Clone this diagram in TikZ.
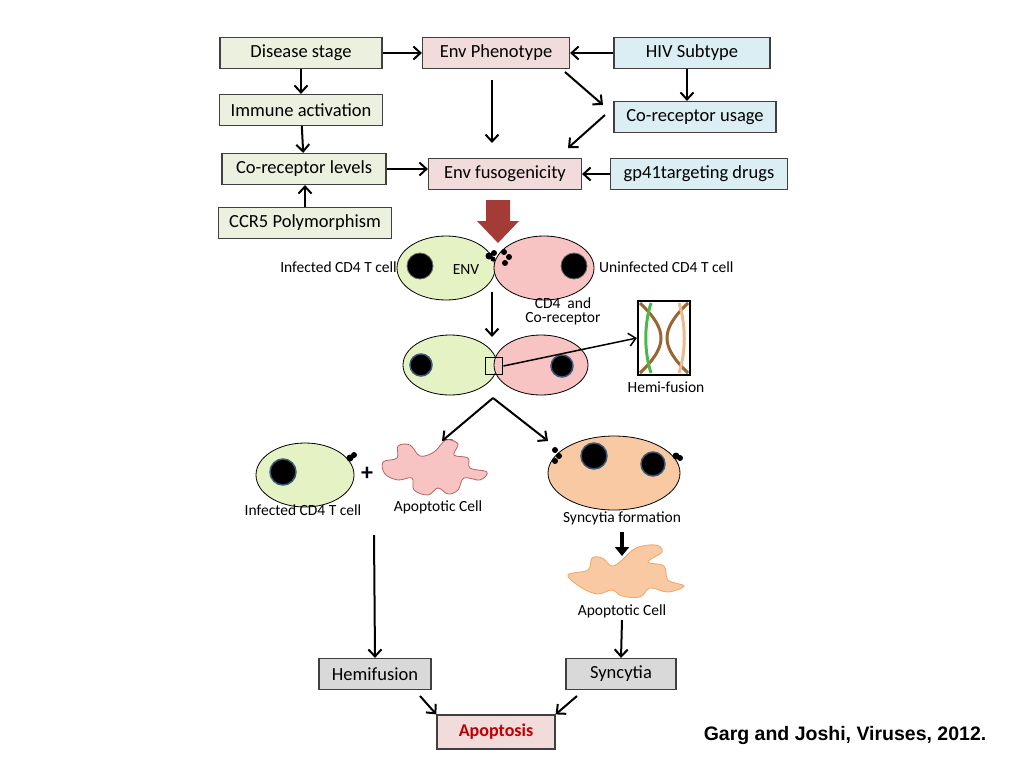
\documentclass[tikz,border=0pt]{standalone}
\usepackage{fontspec}
\setmainfont{Carlito}
\newfontfamily\arialfont{Liberation Sans}
\usetikzlibrary{arrows.meta,shapes.geometric}
\definecolor{boxgreen}{HTML}{EBF1DE}
\definecolor{boxpink}{HTML}{F2DCDB}
\definecolor{boxblue}{HTML}{DBEEF4}
\definecolor{boxgray}{HTML}{D9D9D9}
\definecolor{cellgreen}{HTML}{E4F2C4}
\definecolor{cellpink}{HTML}{F7C3C3}
\definecolor{cellorange}{HTML}{F9C9A4}
\definecolor{bigred}{HTML}{A33B37}
\definecolor{nucborder}{HTML}{3B5A7A}
\tikzset{
  box/.style={draw=black!75, line width=1.2pt, minimum height=31pt, inner sep=0pt, font=\fontsize{18.5}{19}\selectfont},
  arr/.style={-{Straight Barb[length=7pt,width=13pt]}, line width=2pt},
  lbl/.style={font=\fontsize{15.5}{16}\selectfont, inner sep=0pt, align=center},
  nuc/.style={circle, fill=black, draw=nucborder, line width=1.5pt, inner sep=0pt}
}
\begin{document}
\begin{tikzpicture}[x=1pt, y=-1pt]
\useasboundingbox (0,0) rectangle (1024,768);
% boxes
\node[box, fill=boxgreen, minimum width=162pt] (disease) at (301,53) {Disease stage};
\node[box, fill=boxpink, minimum width=147pt] (phen) at (496,53) {Env Phenotype};
\node[box, fill=boxblue, minimum width=156pt] (subtype) at (692,53) {HIV Subtype};
\node[box, fill=boxgreen, minimum width=163pt] (immune) at (301,110) {Immune activation};
\node[box, fill=boxblue, minimum width=162pt] (usage) at (695,117) {Co-receptor usage};
\node[box, fill=boxgreen, minimum width=164pt] (levels) at (304,169) {Co-receptor levels};
\node[box, fill=boxpink, minimum width=153pt] (fuso) at (505,174) {Env fusogenicity};
\node[box, fill=boxblue, minimum width=177pt] (drugs) at (699,174) {gp41targeting drugs};
\node[box, fill=boxgreen, minimum width=173pt] (ccr5) at (305,223) {CCR5 Polymorphism};
\node[box, fill=boxgray, minimum width=112pt] (hemi) at (375,674) {Hemifusion};
\node[box, fill=boxgray, minimum width=110pt] (syn) at (621,674) {Syncytia};
\node[box, fill=boxpink, minimum width=118pt, minimum height=34pt, text=red!75!black, font=\fontsize{18}{18}\selectfont\bfseries] (apo) at (496,732) {Apoptosis};
\node[font=\arialfont\fontsize{19.5}{20}\selectfont\bfseries, inner sep=0pt] (cite) at (845,735) {Garg and Joshi, Viruses, 2012.};
% top arrows
\draw[arr] (disease) -- (phen);
\draw[arr] (subtype) -- (phen);
\draw[arr] (disease) -- (immune);
\draw[arr] (immune) -- (levels);
\draw[arr] (ccr5) -- (ccr5 |- levels.south);
\draw[arr] (levels.east) -- (fuso.west |- levels.east);
\draw[arr] (drugs) -- (fuso);
\coordinate (p1) at (492,80);
\coordinate (p2) at (492,143);
\draw[arr] (p1) -- (p2);
\coordinate (p3) at (565,72);
\coordinate (p4) at (603,105);
\draw[arr] (p3) -- (p4);
\draw[arr] (subtype.south -| 687,0) -- (usage.north -| 687,0);
\coordinate (p5) at (605,115);
\coordinate (p6) at (568,148);
\draw[arr] (p5) -- (p6);
% big red arrow
\fill[bigred] (486,200) -- (510,200) -- (510,221) -- (519,221) -- (498,243) -- (477,221) -- (486,221) -- cycle;
% first cell pair
\node[ellipse, draw, thick, fill=cellgreen, minimum width=98pt, minimum height=64pt] (inf) at (446,268) {};
\node[ellipse, draw, thick, fill=cellpink, minimum width=100pt, minimum height=64pt] (uninf) at (544,268) {};
\node[circle, fill=black, draw=black!60, thick, minimum size=26pt, inner sep=0pt] (n1) at (420,266) {};
\node[circle, fill=black, draw=black!60, thick, minimum size=26pt, inner sep=0pt] (n2) at (574,266) {};
\node[lbl] (envl) at (466,270) {ENV};
\fill (489,256) circle (3.5pt) (494,253) circle (3pt) (493,259) circle (2.5pt);
\fill (504,252) circle (3pt) (509,257) circle (3pt) (505,263) circle (3pt);
\node[lbl, anchor=east] (infl) at (397,267) {Infected CD4 T cell};
\node[lbl, anchor=west] (uninfl) at (599,267) {Uninfected CD4 T cell};
\node[lbl, font=\fontsize{15.5}{14}\selectfont] (cd4l) at (563,311) {CD4\ \ and\\Co-receptor};
\coordinate (p7) at (492,292);
\coordinate (p8) at (492,337);
\draw[arr] (p7) -- (p8);
% fused pair
\node[ellipse, draw, thick, fill=cellgreen, minimum width=94pt, minimum height=60pt] (f1) at (450,365) {};
\node[ellipse, draw, thick, fill=cellpink, minimum width=94pt, minimum height=60pt] (f2) at (541,365) {};
\node[nuc, minimum size=22pt] (n3) at (421,365) {};
\node[nuc, minimum size=22pt] (n4) at (562,366) {};
\node[draw, line width=1.8pt, minimum size=17pt, inner sep=0pt] (zoombox) at (494,366) {};
\node[draw, line width=2.2pt, minimum width=52pt, minimum height=74pt, inner sep=0pt] (hfbox) at (664,338) {};
\begin{scope}
\clip (hfbox.south west) rectangle (hfbox.north east);
\draw[brown!80!black, line width=3pt] (640,303) .. controls (668,330) and (668,346) .. (640,373);
\draw[brown!80!black, line width=3pt] (688,303) .. controls (660,330) and (660,346) .. (688,373);
\draw[green!60!black!70, line width=3pt] (651,303) .. controls (644,325) and (644,351) .. (651,373);
\draw[cellorange!80!brown, line width=3pt] (679,303) .. controls (686,325) and (686,351) .. (679,373);
\end{scope}
\node[draw, line width=2.2pt, minimum width=52pt, minimum height=74pt, inner sep=0pt] at (664,338) {};
\draw[arr, line width=1.5pt] (zoombox.east) -- (hfbox.west);
\node[lbl] (hfl) at (666,387) {Hemi-fusion};
\coordinate (split) at (493,398);
\coordinate (sl) at (442,441);
\coordinate (sr) at (548,441);
\draw[arr] (split) -- (sl);
\draw[arr] (split) -- (sr);
% left branch
\node[ellipse, draw, thick, fill=cellgreen, minimum width=98pt, minimum height=64pt] (inf2) at (305,475) {};
\node[nuc, minimum size=26pt] (n5) at (283,472) {};
\fill (350,458) circle (3.5pt) (354,455) circle (3pt);
\node[font=\fontsize{24}{24}\selectfont\bfseries, inner sep=0pt] (plus) at (367,474) {+};
\filldraw[fill=cellpink, draw=red!50!black!60, thick] plot[smooth cycle, tension=0.6] coordinates {
 (383,462) (397,458) (398,446) (410,445) (420,456) (434,452) (446,440) (458,444)
 (454,455) (468,458) (470,468) (487,472) (480,480) (464,478) (458,490) (448,494) (438,488) (428,495) (414,490) (412,478) (398,480) (385,474)};
\node[lbl] (apol1) at (438,507) {Apoptotic Cell};
\node[lbl] (infl2) at (303,510) {Infected CD4 T cell};
% right branch
\node[ellipse, draw, thick, fill=cellorange, minimum width=132pt, minimum height=74pt] (sync) at (614,473) {};
\node[nuc, minimum size=26pt] (n6) at (594,456) {};
\node[nuc, minimum size=24pt] (n7) at (653,464) {};
\fill (555,450) circle (3pt) (559,456) circle (3pt) (555,461) circle (3pt);
\fill (676,456) circle (3.5pt) (680,458) circle (3pt);
\node[lbl] (synl) at (622,518) {Syncytia formation};
\coordinate (p9) at (622,532);
\coordinate (p10) at (622,556);
\draw[-{Triangle[length=9pt,width=14pt]}, line width=3.5pt] (p9) -- (p10);
\filldraw[fill=cellorange, draw=orange!60!brown!70, thick] plot[smooth cycle, tension=0.6] coordinates {
 (568,575) (588,570) (592,558) (602,558) (612,566) (622,560) (636,548) (656,545) (662,552)
 (648,562) (664,566) (668,580) (684,586) (668,592) (650,588) (640,597) (622,596) (612,590) (598,594) (582,588)};
\node[lbl] (apol2) at (622,611) {Apoptotic Cell};
\coordinate (p12) at (622,620);
\draw[arr] (p12) -- (syn.north);
\coordinate (p11) at (374,535);
\draw[arr] (p11) -- (hemi.north);
% bottom arrows
\coordinate (p13) at (420,696);
\coordinate (p14) at (577,696);
\draw[arr] (p13) -- (apo.north west);
\draw[arr] (p14) -- (apo.north east);
\end{tikzpicture}
\end{document}
